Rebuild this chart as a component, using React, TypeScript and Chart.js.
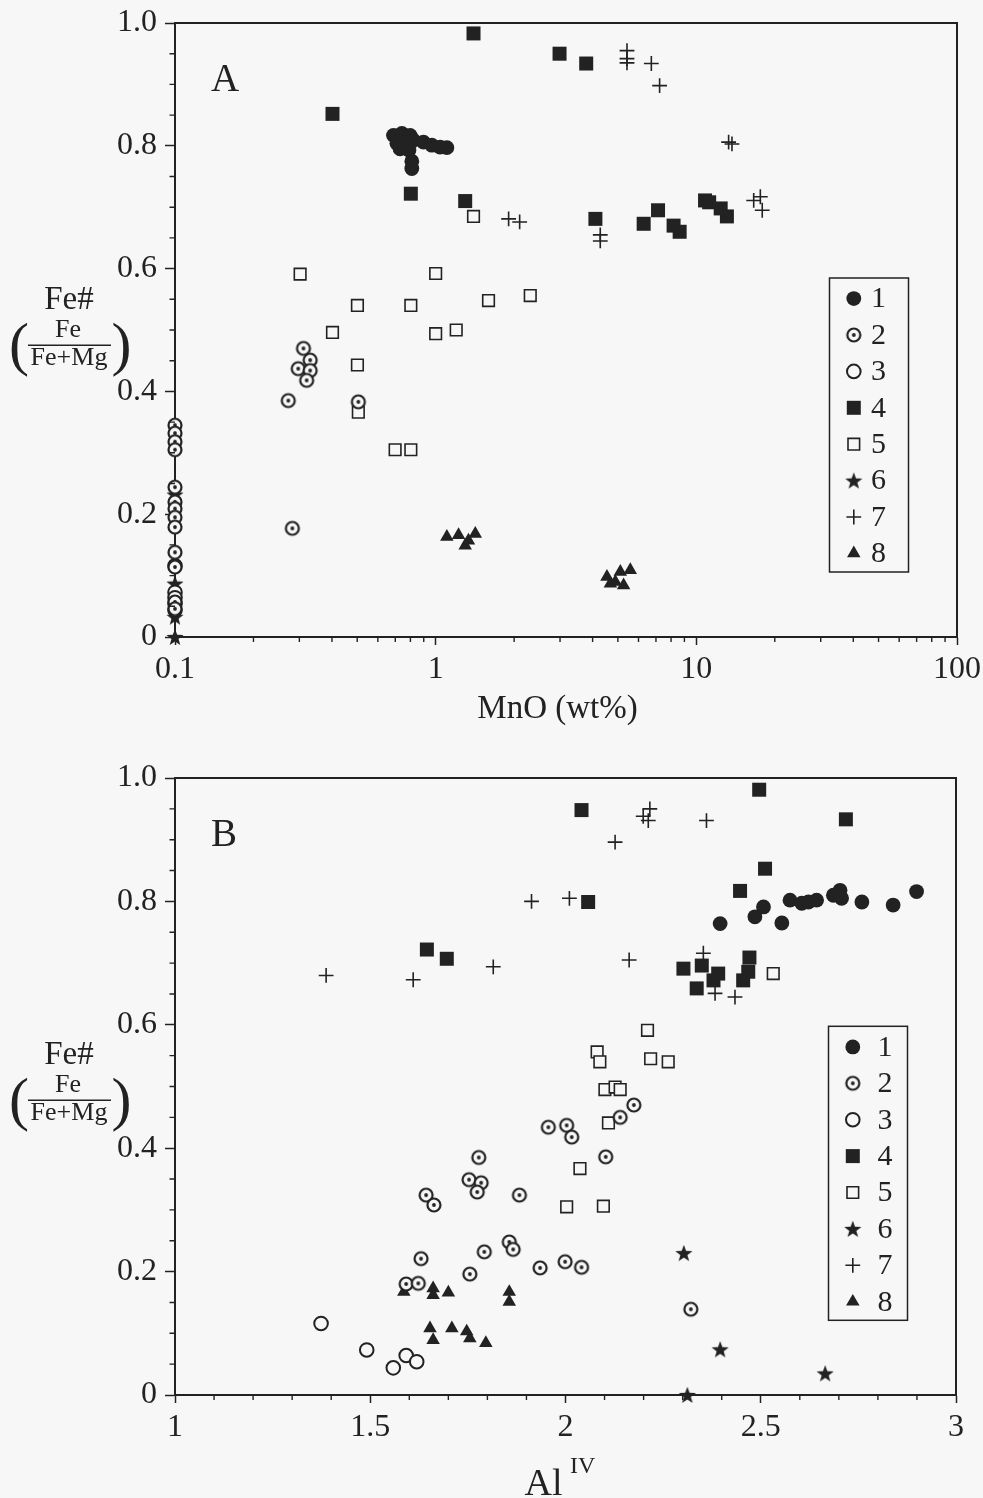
import React, { useEffect, useRef } from 'react';
import { Chart, registerables } from 'chart.js';
import { drawPoint } from 'chart.js/helpers';

Chart.register(...registerables);

type Pt = [number, number];

const INK = '#222222';
const PAPER = '#f7f7f7';
const SERIF = '"Liberation Serif", "Times New Roman", serif';

const SERIES_LABELS = ['1', '2', '3', '4', '5', '6', '7', '8'];

// ---- Panel A: Fe# against MnO (wt%) ----
const mnoGroup1: Pt[] = [
  [0.689, 0.817], [0.742, 0.82], [0.798, 0.817], [0.71, 0.804], [0.764, 0.806], [0.822, 0.809],
  [0.898, 0.806], [0.967, 0.801], [1.04, 0.798], [1.104, 0.797], [0.73, 0.795], [0.79, 0.793],
  [0.81, 0.775], [0.81, 0.763],
];
const mnoGroup2: Pt[] = [
  [0.1, 0.345], [0.1, 0.332], [0.1, 0.318], [0.1, 0.305], [0.1, 0.244], [0.1, 0.22], [0.1, 0.209],
  [0.1, 0.195], [0.1, 0.179], [0.1, 0.138], [0.1, 0.114], [0.1, 0.057], [0.1, 0.046],
  [0.272, 0.385], [0.282, 0.177], [0.505, 0.383], [0.311, 0.47], [0.33, 0.451], [0.297, 0.437],
  [0.33, 0.434], [0.32, 0.418],
];
const mnoGroup3: Pt[] = [[0.1, 0.116], [0.1, 0.073], [0.1, 0.064], [0.1, 0.054], [0.1, 0.044]];
const mnoGroup4: Pt[] = [
  [1.397, 0.983], [0.402, 0.852], [0.803, 0.722], [1.298, 0.71], [2.987, 0.95], [3.78, 0.934],
  [4.1, 0.681], [6.28, 0.673], [7.13, 0.695], [8.18, 0.67], [8.63, 0.66], [10.8, 0.711],
  [11.2, 0.708], [12.4, 0.698], [13.1, 0.685],
];
const mnoGroup5: Pt[] = [
  [1.397, 0.685], [0.302, 0.591], [1.0, 0.592], [0.501, 0.54], [0.803, 0.54], [1.595, 0.548],
  [2.306, 0.556], [0.402, 0.496], [1.0, 0.494], [1.199, 0.5], [0.501, 0.443], [0.505, 0.366],
  [0.699, 0.305], [0.803, 0.305],
];
const mnoGroup6: Pt[] = [[0.1, 0.232], [0.1, 0.087], [0.1, 0.033], [0.1, 0.0]];
const mnoGroup7: Pt[] = [
  [5.42, 0.955], [5.42, 0.942], [5.42, 0.935], [6.72, 0.934], [7.23, 0.898], [13.3, 0.806],
  [13.7, 0.803], [1.905, 0.681], [2.1, 0.676], [4.28, 0.655], [4.28, 0.645], [16.6, 0.711],
  [17.6, 0.717], [17.9, 0.695],
];
const mnoGroup8: Pt[] = [
  [1.104, 0.163], [1.224, 0.166], [1.298, 0.149], [1.336, 0.157], [1.419, 0.168], [4.54, 0.098],
  [4.89, 0.09], [5.11, 0.106], [5.58, 0.109], [4.68, 0.087], [5.26, 0.084],
];

// ---- Panel B: Fe# against Al(IV) ----
const alGroup1: Pt[] = [
  [2.396, 0.764], [2.485, 0.775], [2.507, 0.791], [2.554, 0.765], [2.575, 0.802], [2.605, 0.797],
  [2.622, 0.799], [2.643, 0.802], [2.686, 0.81], [2.703, 0.818], [2.707, 0.805], [2.759, 0.799],
  [2.839, 0.794], [2.899, 0.816],
];
const alGroup2: Pt[] = [
  [1.592, 0.18], [1.623, 0.181], [1.63, 0.221], [1.643, 0.324], [1.663, 0.308], [1.755, 0.196],
  [1.778, 0.385], [1.753, 0.349], [1.784, 0.344], [1.774, 0.329], [1.792, 0.232], [1.856, 0.248],
  [1.866, 0.236], [1.882, 0.324], [1.935, 0.206], [1.999, 0.216], [2.041, 0.207], [1.956, 0.434],
  [2.003, 0.437], [2.016, 0.418], [2.103, 0.386], [2.14, 0.45], [2.175, 0.47], [2.321, 0.139],
];
const alGroup3: Pt[] = [[1.374, 0.116], [1.491, 0.073], [1.559, 0.044], [1.592, 0.064], [1.619, 0.054]];
const alGroup4: Pt[] = [
  [2.496, 0.981], [2.041, 0.948], [2.718, 0.933], [2.511, 0.853], [2.447, 0.817], [2.058, 0.799],
  [1.645, 0.722], [1.696, 0.707], [2.302, 0.691], [2.349, 0.696], [2.391, 0.683], [2.379, 0.672],
  [2.336, 0.659], [2.471, 0.709], [2.468, 0.686], [2.455, 0.672],
];
const alGroup5: Pt[] = [
  [2.532, 0.683], [2.21, 0.591], [2.081, 0.556], [2.088, 0.54], [2.218, 0.545], [2.263, 0.54],
  [2.101, 0.495], [2.127, 0.499], [2.14, 0.495], [2.11, 0.441], [2.037, 0.367], [2.003, 0.305],
  [2.097, 0.306],
];
const alGroup6: Pt[] = [[2.303, 0.23], [2.396, 0.074], [2.665, 0.035], [2.312, 0.0]];
const alGroup7: Pt[] = [
  [1.387, 0.68], [1.61, 0.673], [1.815, 0.694], [2.216, 0.95], [2.199, 0.938], [2.212, 0.931],
  [2.361, 0.931], [2.127, 0.896], [1.913, 0.8], [2.01, 0.805], [2.163, 0.705], [2.353, 0.716],
  [2.383, 0.651], [2.434, 0.645],
];
const alGroup8: Pt[] = [
  [1.586, 0.167], [1.661, 0.173], [1.661, 0.162], [1.7, 0.166], [1.653, 0.108], [1.661, 0.089],
  [1.709, 0.108], [1.747, 0.103], [1.755, 0.092], [1.796, 0.084], [1.856, 0.167], [1.856, 0.151],
];

// ---- Axis ticks ----
const feMajorTicks = [0, 0.2, 0.4, 0.6, 0.8, 1.0];
const feTickLabels = ['0', '0.2', '0.4', '0.6', '0.8', '1.0'];
const mnoMajorTicks = [0.1, 1, 10, 100];
const mnoTickLabels = ['0.1', '1', '10', '100'];
const alMajorTicks = [1, 1.5, 2, 2.5, 3];
const alTickLabels = ['1', '1.5', '2', '2.5', '3'];

// minor tick positions between the labelled ones
const feAllTicks = Array.from({ length: 21 }, (_, i) => i / 20);
const alAllTicks = Array.from({ length: 21 }, (_, i) => 1 + i / 10);
const mnoAllTicks = [0.1, 1, 10].flatMap((d) => [1, 2, 3, 4, 5, 6, 7, 8, 9].map((m) => d * m)).concat([100]);

const labelFor = (majors: number[], labels: string[]) => (value: number | string) => {
  const v = Number(value);
  const i = majors.findIndex((m) => Math.abs(m - v) <= 1e-6 * Math.max(1, Math.abs(m)));
  return i >= 0 ? labels[i] : '';
};

const majorTickColor = (c: any) => (c.tick && c.tick.label !== '' ? INK : 'rgba(0,0,0,0)');

// ---- Marker images ----
function bullseyeMarker(): HTMLCanvasElement {
  const c = document.createElement('canvas');
  c.width = 18;
  c.height = 18;
  const g = c.getContext('2d')!;
  g.beginPath();
  g.arc(9, 9, 6.5, 0, Math.PI * 2);
  g.fillStyle = PAPER;
  g.fill();
  g.lineWidth = 2.2;
  g.strokeStyle = INK;
  g.stroke();
  g.beginPath();
  g.arc(9, 9, 1.9, 0, Math.PI * 2);
  g.fillStyle = INK;
  g.fill();
  return c;
}

function starMarker(): HTMLCanvasElement {
  const c = document.createElement('canvas');
  c.width = 20;
  c.height = 20;
  const g = c.getContext('2d')!;
  g.beginPath();
  for (let k = 0; k < 10; k++) {
    const r = k % 2 === 0 ? 9 : 3.7;
    const a = -Math.PI / 2 + (k * Math.PI) / 5;
    const x = 10 + r * Math.cos(a);
    const y = 10.8 + r * Math.sin(a);
    if (k === 0) g.moveTo(x, y);
    else g.lineTo(x, y);
  }
  g.closePath();
  g.fillStyle = INK;
  g.fill();
  return c;
}

function seriesStyles() {
  const bull = bullseyeMarker();
  const star = starMarker();
  return [
    { pointStyle: 'circle', pointRadius: 7.4, backgroundColor: INK, borderColor: INK, borderWidth: 0 },
    { pointStyle: bull, pointRadius: 7, backgroundColor: PAPER, borderColor: INK, borderWidth: 0 },
    { pointStyle: 'circle', pointRadius: 6.8, backgroundColor: PAPER, borderColor: INK, borderWidth: 2 },
    { pointStyle: 'rect', pointRadius: 9.9, backgroundColor: INK, borderColor: INK, borderWidth: 0 },
    { pointStyle: 'rect', pointRadius: 8.2, backgroundColor: PAPER, borderColor: INK, borderWidth: 1.6 },
    { pointStyle: star, pointRadius: 9, backgroundColor: INK, borderColor: INK, borderWidth: 0 },
    { pointStyle: 'cross', pointRadius: 7.4, backgroundColor: INK, borderColor: INK, borderWidth: 1.6 },
    { pointStyle: 'triangle', pointRadius: 7.8, backgroundColor: INK, borderColor: INK, borderWidth: 0 },
  ];
}

interface PanelSpec {
  letter: string;
  groups: Pt[][];
  xScale: any;
  padTop: number;
  padRight: number;
  xAxisHeight: number;
  legendTop: number;
  drawXTitle: (ctx: CanvasRenderingContext2D, a: any) => void;
}

function drawFeTitle(ctx: CanvasRenderingContext2D, a: any) {
  const L = a.left;
  const T = a.top;
  ctx.fillStyle = INK;
  ctx.strokeStyle = INK;
  ctx.textBaseline = 'alphabetic';
  ctx.textAlign = 'center';
  ctx.font = `33px ${SERIF}`;
  ctx.fillText('Fe#', L - 106, T + 285.5);
  ctx.font = `26px ${SERIF}`;
  ctx.fillText('Fe', L - 107, T + 314);
  ctx.fillText('Fe+Mg', L - 106, T + 342);
  ctx.lineWidth = 1.5;
  ctx.beginPath();
  ctx.moveTo(L - 147, T + 322.3);
  ctx.lineTo(L - 64, T + 322.3);
  ctx.stroke();
  ctx.textAlign = 'left';
  ctx.font = `60px ${SERIF}`;
  ctx.fillText('(', L - 166, T + 341);
  ctx.fillText(')', L - 63.5, T + 341);
}

function panelDecor(spec: PanelSpec) {
  return {
    id: `panelDecor${spec.letter}`,
    afterDraw(chart: any) {
      const { ctx, chartArea: a } = chart;
      const xs = chart.scales.x;
      const ys = chart.scales.y;
      ctx.save();
      ctx.strokeStyle = INK;
      ctx.fillStyle = INK;

      // top and right sides of the frame
      ctx.lineWidth = 2;
      ctx.beginPath();
      ctx.moveTo(a.left, a.top);
      ctx.lineTo(a.right, a.top);
      ctx.lineTo(a.right, a.bottom);
      ctx.stroke();

      // short unlabelled ticks
      ctx.lineWidth = 1.4;
      ctx.beginPath();
      for (const t of xs.ticks) {
        if (t.label !== '') continue;
        const p = xs.getPixelForValue(t.value);
        ctx.moveTo(p, a.bottom);
        ctx.lineTo(p, a.bottom + 5);
      }
      for (const t of ys.ticks) {
        if (t.label !== '') continue;
        const p = ys.getPixelForValue(t.value);
        ctx.moveTo(a.left, p);
        ctx.lineTo(a.left - 5.5, p);
      }
      ctx.stroke();

      // panel letter
      ctx.textAlign = 'left';
      ctx.textBaseline = 'alphabetic';
      ctx.font = `39px ${SERIF}`;
      ctx.fillText(spec.letter, a.left + 36, a.top + 67.5);

      drawFeTitle(ctx, a);
      spec.drawXTitle(ctx, a);

      // legend box
      const W = 79;
      const H = 294;
      const bx = a.right - 48.5 - W;
      const by = a.top + spec.legendTop;
      ctx.lineWidth = 1.5;
      ctx.strokeStyle = INK;
      ctx.strokeRect(bx, by, W, H);
      ctx.font = `30px ${SERIF}`;
      ctx.textBaseline = 'middle';
      chart.data.datasets.forEach((ds: any, i: number) => {
        const cy = by + 20.6 + i * 36.4;
        ctx.save();
        ctx.fillStyle = ds.backgroundColor;
        ctx.strokeStyle = ds.borderColor;
        ctx.lineWidth = ds.borderWidth;
        drawPoint(ctx, { pointStyle: ds.pointStyle, radius: ds.pointRadius, rotation: 0, borderWidth: ds.borderWidth }, bx + 24.3, cy);
        ctx.restore();
        ctx.fillStyle = INK;
        ctx.fillText(ds.label, bx + 49, cy + 1);
      });
      ctx.restore();
    },
  };
}

function buildConfig(spec: PanelSpec): any {
  const styles = seriesStyles();
  const datasets = spec.groups.map((pts, i) => ({
    label: SERIES_LABELS[i],
    data: pts.map(([x, y]) => ({ x, y })),
    showLine: false,
    clip: false,
    ...styles[i],
  }));
  return {
    type: 'scatter',
    data: { datasets },
    plugins: [panelDecor(spec)],
    options: {
      animation: false,
      responsive: false,
      events: [],
      layout: { padding: { left: 0, right: spec.padRight, top: spec.padTop, bottom: 0 } },
      plugins: { legend: { display: false }, tooltip: { enabled: false } },
      scales: {
        x: {
          ...spec.xScale,
          afterFit: (s: any) => {
            s.height = spec.xAxisHeight;
            s.paddingLeft = 0;
            s.paddingRight = 0;
          },
          border: { display: true, color: INK, width: 2 },
          grid: {
            display: true,
            drawOnChartArea: false,
            drawTicks: true,
            tickLength: 8,
            tickWidth: 1.5,
            color: 'rgba(0,0,0,0)',
            tickColor: majorTickColor,
          },
        },
        y: {
          type: 'linear',
          min: 0,
          max: 1,
          afterBuildTicks: (s: any) => {
            s.ticks = feAllTicks.map((value) => ({ value }));
          },
          afterFit: (s: any) => {
            s.width = 175;
            s.paddingTop = 0;
            s.paddingBottom = 0;
          },
          border: { display: true, color: INK, width: 2 },
          grid: {
            display: true,
            drawOnChartArea: false,
            drawTicks: true,
            tickLength: 10,
            tickWidth: 1.5,
            color: 'rgba(0,0,0,0)',
            tickColor: majorTickColor,
          },
          ticks: {
            autoSkip: false,
            padding: 8,
            color: INK,
            font: { family: SERIF, size: 32 },
            callback: labelFor(feMajorTicks, feTickLabels),
          },
        },
      },
    },
  };
}

const xTickFont = { family: SERIF, size: 32 };

const panelA: PanelSpec = {
  letter: 'A',
  groups: [mnoGroup1, mnoGroup2, mnoGroup3, mnoGroup4, mnoGroup5, mnoGroup6, mnoGroup7, mnoGroup8],
  xScale: {
    type: 'logarithmic',
    min: 0.1,
    max: 100,
    afterBuildTicks: (s: any) => {
      s.ticks = mnoAllTicks.map((value) => ({ value }));
    },
    ticks: {
      autoSkip: false,
      maxRotation: 0,
      minRotation: 0,
      padding: 5,
      color: INK,
      font: xTickFont,
      callback: labelFor(mnoMajorTicks, mnoTickLabels),
    },
  },
  padTop: 23,
  padRight: 26,
  xAxisHeight: 112,
  legendTop: 255,
  drawXTitle: (ctx, a) => {
    ctx.textAlign = 'center';
    ctx.textBaseline = 'alphabetic';
    ctx.font = `33px ${SERIF}`;
    ctx.fillText('MnO (wt%)', a.left + 382.5, a.bottom + 80.5);
  },
};

const panelB: PanelSpec = {
  letter: 'B',
  groups: [alGroup1, alGroup2, alGroup3, alGroup4, alGroup5, alGroup6, alGroup7, alGroup8],
  xScale: {
    type: 'linear',
    min: 1,
    max: 3,
    afterBuildTicks: (s: any) => {
      s.ticks = alAllTicks.map((value) => ({ value }));
    },
    ticks: {
      autoSkip: false,
      maxRotation: 0,
      minRotation: 0,
      padding: 5,
      color: INK,
      font: xTickFont,
      callback: labelFor(alMajorTicks, alTickLabels),
    },
  },
  padTop: 29,
  padRight: 27,
  xAxisHeight: 103,
  legendTop: 248.3,
  drawXTitle: (ctx, a) => {
    ctx.textAlign = 'left';
    ctx.textBaseline = 'alphabetic';
    ctx.font = `38px ${SERIF}`;
    ctx.fillText('Al', a.left + 349.5, a.bottom + 100);
    ctx.font = `24px ${SERIF}`;
    ctx.fillText('IV', a.left + 395, a.bottom + 77.5);
  },
};

function Panel({ spec, top }: { spec: PanelSpec; top: number }) {
  const ref = useRef<HTMLCanvasElement>(null);
  useEffect(() => {
    const chart = new Chart(ref.current as HTMLCanvasElement, buildConfig(spec));
    return () => chart.destroy();
  }, [spec]);
  return (
    <div style={{ position: 'absolute', left: 0, top, width: 983, height: 749 }}>
      <canvas ref={ref} width={983} height={749} style={{ display: 'block', width: 983, height: 749 }} />
    </div>
  );
}

export default function App() {
  return (
    <div style={{ position: 'absolute', left: 0, top: 0, width: 983, height: 1498, background: PAPER, overflow: 'hidden' }}>
      <Panel spec={panelA} top={0} />
      <Panel spec={panelB} top={749} />
    </div>
  );
}
